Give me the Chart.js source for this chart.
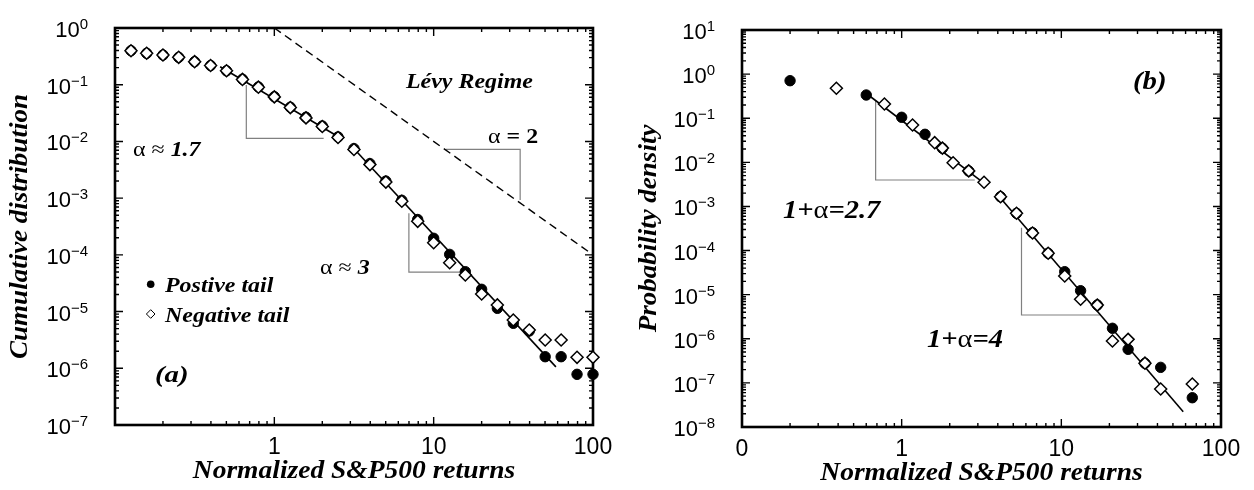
<!DOCTYPE html>
<html>
<head>
<meta charset="utf-8">
<script src="https://cdn.jsdelivr.net/npm/chart.js@4.4.1/dist/chart.umd.min.js"></script>
<style>
html,body{margin:0;padding:0;background:#fff;}
#wrap{position:relative;width:1254px;height:490px;overflow:hidden;}
canvas{position:absolute;top:0;}
</style>
</head>
<body>
<div id="wrap">
  <canvas id="ca" width="627" height="490" style="left:0"></canvas>
  <canvas id="cb" width="627" height="490" style="left:627px"></canvas>
</div>
<script>
// ---- panel (a): cumulative distribution ----
const aX   = [0.126,0.158,0.2,0.251,0.316,0.398,0.501,0.631,0.794,1,1.26,1.58,2,2.51,3.16,3.98,5.01,6.31,7.94,10,12.6,15.8,20,25.1,31.6,39.8,50.1,63.1,79.4,100];
const aPos = [0.398,0.358,0.334,0.304,0.255,0.218,0.176,0.125,0.0912,0.0615,0.0401,0.0267,0.0187,0.0120,0.00747,0.00406,0.00200,0.000916,0.000420,0.000196,0.000102,5.05e-5,2.47e-5,1.14e-5,6.21e-6,4.54e-6,1.60e-6,1.60e-6,7.83e-7,7.83e-7];
const aNeg = [0.398,0.358,0.334,0.304,0.255,0.218,0.176,0.124,0.0905,0.061,0.0395,0.026,0.0183,0.0117,0.0072,0.0039,0.00192,0.00088,0.00039,0.000164,7.27e-5,4.41e-5,2.04e-5,1.31e-5,7.10e-6,4.73e-6,3.15e-6,3.15e-6,1.56e-6,1.56e-6];
const aFit1 = [[0.457,0.2075],[2.68,0.0109]];
const aFit2 = [[3.08,0.00807],[58.5,1.06e-6]];
const aLevy = [[1,1],[100,1e-4]];
const aTri1 = [[0.667,0.0988],[0.667,0.01135],[2.04,0.01135]];
const aTri2 = [[11.9,0.00726],[34.9,0.00726],[34.9,0.000925]];
const aTri3 = [[6.99,5.4e-4],[6.99,4.97e-5],[15.1,4.97e-5]];
const aYExp = [0,-1,-2,-3,-4,-5,-6,-7];
const aXTicks = [1,10,100];
const aXLabels = ['1','10','100'];

// ---- panel (b): probability density ----
const bXPos = [0.2,0.6,1.0,1.4,1.8,2.63,4.16,5.24,6.6,8.27,10.5,13.2,16.8,20.9,26.2,33.4,41.9,66.1];
const bPos  = [0.709,0.336,0.105,0.0432,0.0208,0.00636,0.00166,0.000698,0.000254,8.67e-5,3.32e-5,1.23e-5,5.83e-6,1.73e-6,5.77e-7,2.78e-7,2.25e-7,4.61e-8];
const bXNeg = [0.39,0.78,1.17,1.61,1.8,2.1,2.63,3.28,4.16,5.24,6.6,8.27,10.5,13.2,16.8,20.9,26.2,33.4,41.9,66.1];
const bNeg  = [0.477,0.21,0.0702,0.0279,0.021,0.00981,0.0064,0.00353,0.00166,0.0007,0.00025,8.7e-5,2.65e-5,7.85e-6,5.8e-6,8.9e-7,9.7e-7,2.8e-7,7.27e-8,9.44e-8];
const bFit1 = [[0.63,0.319],[3.40,0.00306]];
const bFit2 = [[3.92,0.00199],[58.0,2.22e-8]];
const bTri1 = [[0.687,0.259],[0.687,0.00398],[2.87,0.00398]];
const bTri2 = [[5.63,3.3e-4],[5.63,3.46e-6],[17.4,3.46e-6]];
const bYExp = [1,0,-1,-2,-3,-4,-5,-6,-7,-8];
const bXTicks = [0.1,1,10,100];
const bXLabels = ['0','1','10','100'];

const BI = s => `italic bold ${s}px "Liberation Serif"`;
const BD = s => `bold ${s}px "Liberation Serif"`;
const RG = s => `${s}px "Liberation Serif"`;
const pts = arr => arr.map(p=>({x:p[0],y:p[1]}));
const zip = (xs,ys) => xs.map((x,i)=>({x,y:ys[i]}));

function lineDs(arr,color,width,dash){
  return {data:pts(arr),showLine:true,borderColor:color,borderWidth:width,borderDash:dash||[],pointRadius:0,clip:false,order:3};
}
function circles(data){ return {data,pointStyle:'circle',pointRadius:5.2,backgroundColor:'#000',borderColor:'#000',borderWidth:1,clip:false,order:1}; }
function diamonds(data){ return {data,pointStyle:'rectRot',pointRadius:6,backgroundColor:'#fff',borderColor:'#000',borderWidth:1.5,clip:false,order:0}; }

// text runs, stretched a bit wider like the original typesetting
function runs(ctx,x,y,parts,sx){
  ctx.save(); ctx.translate(x,y); ctx.scale(sx||1,1);
  let cx=0;
  parts.forEach(([t,f])=>{ ctx.font=f; ctx.fillText(t,cx,0); cx+=ctx.measureText(t).width; });
  ctx.restore();
}

// frame, inward ticks, tick labels, titles
function framePlugin(o){
  return {
    id:'frame',
    beforeDatasetsDraw(chart){
      const {ctx,chartArea:a,scales:{x,y}}=chart;
      ctx.save();
      ctx.strokeStyle='#000';
      ctx.lineWidth=1.4;
      for(let e=-1;e<=2;e++) for(let m=1;m<=9;m++){
        const v=m*Math.pow(10,e); if(v>x.max*1.0001) continue;
        const px=x.getPixelForValue(v), len=m===1?8:4;
        ctx.beginPath(); ctx.moveTo(px,a.bottom); ctx.lineTo(px,a.bottom-len);
        ctx.moveTo(px,a.top); ctx.lineTo(px,a.top+len); ctx.stroke();
      }
      const e0=Math.round(Math.log10(y.min)), e1=Math.round(Math.log10(y.max));
      for(let e=e0;e<=e1;e++) for(let m=1;m<=9;m++){
        const v=m*Math.pow(10,e); if(v>y.max*1.0001) continue;
        const py=y.getPixelForValue(v), len=m===1?8:4;
        ctx.beginPath(); ctx.moveTo(a.left,py); ctx.lineTo(a.left+len,py);
        ctx.moveTo(a.right,py); ctx.lineTo(a.right-len,py); ctx.stroke();
      }
      ctx.lineWidth=2.6;
      ctx.strokeRect(a.left,a.top,a.right-a.left,a.bottom-a.top);
      ctx.restore();
    },
    afterDraw(chart){
      const {ctx,chartArea:a,scales:{x,y}}=chart;
      ctx.save();
      ctx.fillStyle='#000';
      // y tick labels 10^n
      ctx.textBaseline='alphabetic';
      o.yExp.forEach(n=>{
        const py=y.getPixelForValue(Math.pow(10,n));
        const ex=n<0?'\u2212'+(-n):String(n);
        ctx.font='15px "Liberation Sans"';
        const ew=ctx.measureText(ex).width;
        const right=a.left-27;
        ctx.textAlign='left';
        ctx.fillText(ex,right-ew,py+1);
        ctx.font='22px "Liberation Sans"';
        ctx.textAlign='right';
        ctx.fillText('10',right-ew,py+9);
      });
      // x tick labels
      ctx.textAlign='center';
      ctx.font='23px "Liberation Sans"';
      o.xTicks.forEach((v,i)=>ctx.fillText(o.xLabels[i],x.getPixelForValue(v),a.bottom+29));
      // axis titles
      ctx.font=BI(25);
      ctx.textBaseline='middle';
      ctx.save();
      ctx.translate((a.left+a.right)/2,a.bottom+47); ctx.scale(1.1,1);
      ctx.fillText('Normalized S&P500 returns',0,0);
      ctx.restore();
      ctx.save();
      ctx.translate(o.yTitleX,(a.top+a.bottom)/2);
      ctx.rotate(-Math.PI/2); ctx.scale(1.08,1);
      ctx.fillText(o.yTitle,0,0);
      ctx.restore();
      ctx.textAlign='left';
      ctx.textBaseline='alphabetic';
      o.notes(ctx);
      ctx.restore();
    }
  };
}

function makePanel(id,datasets,o){
  return new Chart(document.getElementById(id),{
    type:'scatter',
    data:{datasets},
    options:{
      responsive:false,animation:false,devicePixelRatio:1,events:[],
      layout:{padding:o.pad},
      plugins:{legend:{display:false},tooltip:{enabled:false}},
      scales:{
        x:{type:'logarithmic',min:0.1,max:100,display:false},
        y:{type:'logarithmic',min:o.ymin,max:o.ymax,display:false}
      }
    },
    plugins:[framePlugin(o)]
  });
}

makePanel('ca',[
  diamonds(zip(aX,aNeg)),
  circles(zip(aX,aPos)),
  lineDs(aFit1,'#000',1.6),
  lineDs(aFit2,'#000',1.6),
  lineDs(aLevy,'#000',1.4,[8,5]),
  lineDs(aTri1,'#808080',1.2),
  lineDs(aTri2,'#808080',1.2),
  lineDs(aTri3,'#808080',1.2)
],{
  pad:{left:115,right:34,top:28,bottom:65},
  ymin:1e-7,ymax:1,yExp:aYExp,xTicks:aXTicks,xLabels:aXLabels,
  yTitle:'Cumulative distribution',yTitleX:21,
  notes(ctx){
    runs(ctx,133,156,[['\u03b1 \u2248 ',RG(21)],['1.7',BI(21)]],1.14);
    runs(ctx,406,88,[['L\u00e9vy Regime',BI(21)]],1.14);
    runs(ctx,488,143,[['\u03b1',RG(21)],[' = 2',BD(21)]],1.14);
    runs(ctx,320,274,[['\u03b1 \u2248 ',RG(21)],['3',BI(21)]],1.14);
    // legend
    ctx.beginPath(); ctx.arc(150.7,284.3,3.8,0,Math.PI*2); ctx.fill();
    ctx.beginPath(); ctx.moveTo(146.4,314); ctx.lineTo(150.7,309.7); ctx.lineTo(155,314); ctx.lineTo(150.7,318.3); ctx.closePath();
    ctx.lineWidth=1; ctx.strokeStyle='#000'; ctx.stroke();
    runs(ctx,165,292,[['Postive tail',BI(21)]],1.14);
    runs(ctx,165,322,[['Negative tail',BI(21)]],1.14);
    runs(ctx,155,382,[['(a)',BI(24)]],1.2);
  }
});

makePanel('cb',[
  diamonds(zip(bXNeg,bNeg)),
  circles(zip(bXPos,bPos)),
  lineDs(bFit1,'#000',1.6),
  lineDs(bFit2,'#000',1.6),
  lineDs(bTri1,'#808080',1.2),
  lineDs(bTri2,'#808080',1.2)
],{
  pad:{left:115,right:33,top:30,bottom:63},
  ymin:1e-8,ymax:10,yExp:bYExp,xTicks:bXTicks,xLabels:bXLabels,
  yTitle:'Probability density',yTitleX:23,
  notes(ctx){
    runs(ctx,506,89,[['(b)',BI(25)]],1.15);
    runs(ctx,156,218,[['1+',BI(25)],['\u03b1',RG(25)],['=2.7',BI(25)]],1.14);
    runs(ctx,300,347,[['1+',BI(25)],['\u03b1',RG(25)],['=4',BI(25)]],1.14);
  }
});
</script>
</body>
</html>
